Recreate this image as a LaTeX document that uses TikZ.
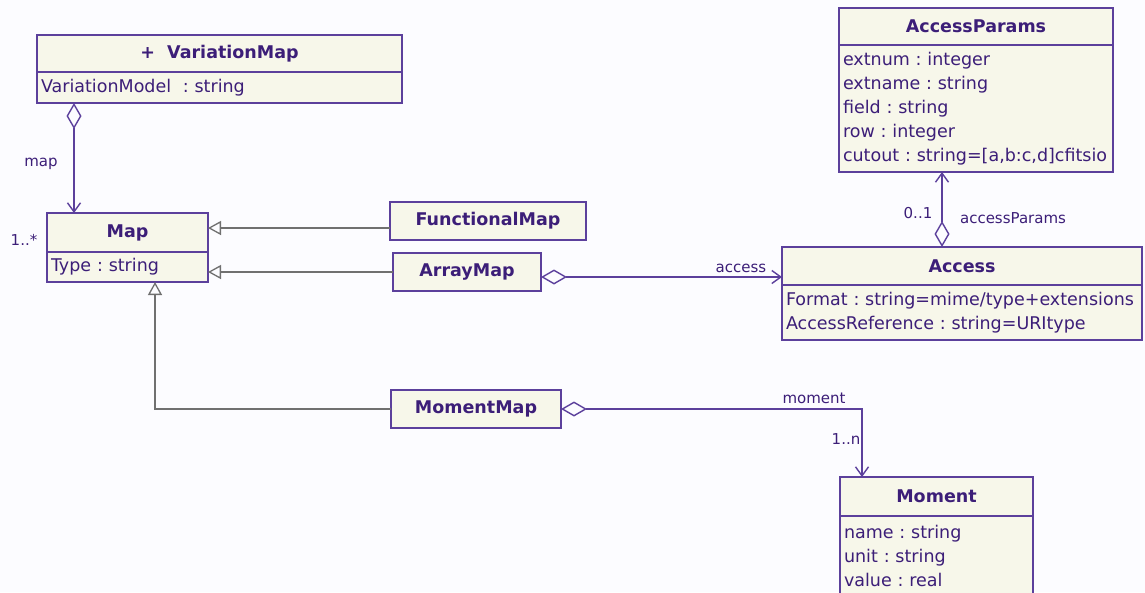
\documentclass[tikz,border=0pt]{standalone}
\usepackage{fontspec}
\setmainfont{DejaVu Sans}
\usepackage{tikz}
\usetikzlibrary{positioning,arrows.meta}
\definecolor{umlline}{RGB}{92,64,156}
\definecolor{umltext}{RGB}{60,30,120}
\definecolor{umlfill}{RGB}{247,247,234}
\definecolor{umlgray}{RGB}{112,112,112}
\definecolor{umlbg}{RGB}{252,252,255}
\frenchspacing

\begin{document}
\begin{tikzpicture}[x=1pt, y=-1pt,
    cls/.style={draw=umlline, line width=1.6pt, fill=umlfill, text=umltext, anchor=north west,
        inner sep=0pt, outer sep=0pt, font=\fontsize{17.5}{21}\selectfont\bfseries},
    attrs/.style={draw=umlline, line width=1.6pt, fill=umlfill, text=umltext, align=left,
        inner xsep=4pt, inner ysep=0pt, outer sep=0pt, font=\fontsize{17.5}{24}\selectfont},
    role/.style={text=umltext, inner sep=1pt, font=\fontsize{15}{18}\selectfont},
    assoc/.style={draw=umlline, line width=1.4pt,
        {Diamond[open,length=26pt,width=15pt]}-{Straight Barb[length=9pt,width=13pt]}},
    gen/.style={draw=umlgray, line width=1.3pt, -{Triangle[open,length=13pt,width=14pt]}}]
                \fill[umlbg] (0,0) rectangle (1145,592);
                \useasboundingbox (0,0) rectangle (1145,592);

                % classes
                \node[cls, minimum width=365pt, minimum height=37pt] (vmap) at (37,35) {+~ VariationMap};
                \node[attrs, text width=357pt, minimum height=31pt, below=0pt of vmap] (vmapA) {VariationModel~ : string};
                \node[cls, minimum width=161pt, minimum height=39pt] (map) at (47,213) {Map};
                \node[attrs, text width=153pt, minimum height=30pt, below=0pt of map] (mapA) {Type : string};
                \node[cls, minimum width=196pt, minimum height=38pt] (fmap) at (390,202) {FunctionalMap};
                \node[cls, minimum width=148pt, minimum height=38pt] (amap) at (393,253) {ArrayMap};
                \node[cls, minimum width=170pt, minimum height=38pt] (mmap) at (391,390) {MomentMap};
                \node[cls, minimum width=360pt, minimum height=38pt] (acc) at (782,247) {Access};
                \node[attrs, text width=352pt, minimum height=55pt, below=0pt of acc] (accA)
                    {Format : string=mime/type+extensions\\AccessReference : string=URItype};
                \node[cls, minimum width=274pt, minimum height=37pt] (apar) at (839,8) {AccessParams};
                \node[attrs, text width=266pt, minimum height=127pt, below=0pt of apar] (aparA)
                    {extnum : integer\\extname : string\\field : string\\row : integer\\cutout : string=[a,b:c,d]cfitsio};
                \node[cls, minimum width=193pt, minimum height=39pt] (mom) at (840,477) {Moment};
                \node[attrs, text width=185pt, minimum height=80pt, below=0pt of mom] (momA)
                    {name : string\\unit : string\\value : real};

                % generalisations
                \draw[gen] ([yshift=-7pt]fmap.west) -- ([yshift=-7pt]fmap.west -| map.east);
                \draw[gen] (amap.west) -- (amap.west -| mapA.east);
                \draw[gen] (mmap.west) -| ([xshift=108pt]mapA.south west);

                % aggregations
                \draw[assoc] ([xshift=37pt]vmapA.south west) -- ([xshift=27pt]map.north west);
                \draw[assoc] ([yshift=-5pt]amap.east) -- ([yshift=-5pt]amap.east -| acc.west);
                \draw[assoc] ([xshift=160pt]acc.north west) -- ([xshift=160pt]acc.north west |- aparA.south);
                \draw[assoc] (mmap.east) -| ([xshift=22pt]mom.north west);

                % roles
                \node[role] (lmap) at (41,164) {map};
                \node[role] (lmapm) at (24,240) {1..*};
                \node[role] (lacc) at (741,268) {access};
                \node[role] (lapm) at (918,213) {0..1};
                \node[role] (lap) at (1013,218) {accessParams};
                \node[role] (lmom) at (814,398) {moment};
                \node[role] (lmomm) at (846,439) {1..n};
\end{tikzpicture}
\end{document}
